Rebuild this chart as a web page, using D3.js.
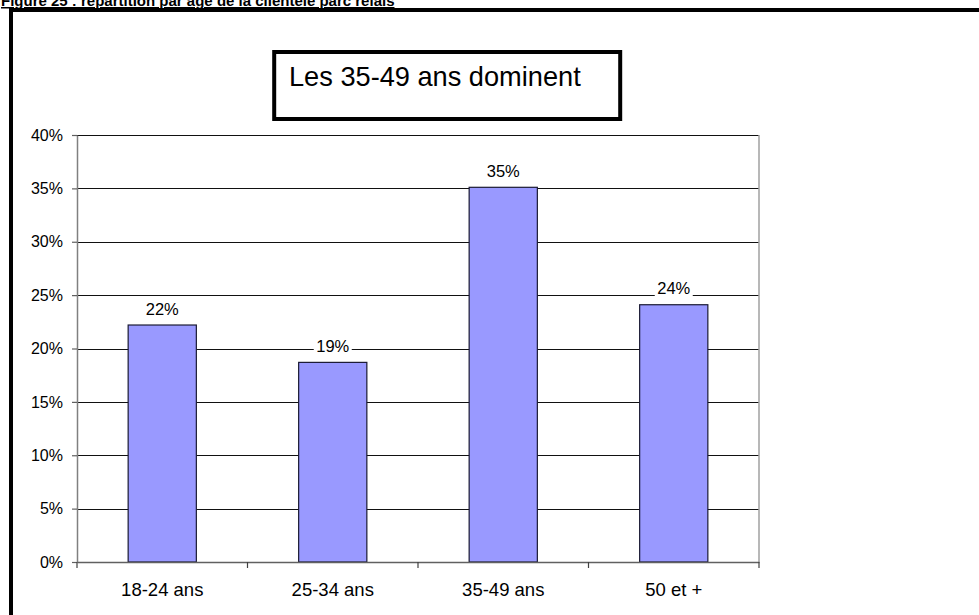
<!DOCTYPE html>
<html>
<head>
<meta charset="utf-8">
<script src="https://cdn.jsdelivr.net/npm/d3@7"></script>
<style>
  html, body { margin: 0; padding: 0; background: #fff; }
  svg { display: block; font-family: Arial, "Liberation Sans", sans-serif; }
</style>
</head>
<body>
<svg id="chart" width="979" height="615"></svg>
<script>
// ---- Data ----
const categories = ["18-24 ans", "25-34 ans", "35-49 ans", "50 et +"];
const values = [0.222, 0.187, 0.351, 0.241];
const yTicks = [0, 0.05, 0.10, 0.15, 0.20, 0.25, 0.30, 0.35, 0.40];
const figureTitle = "Figure 25 : répartition par âge de la clientèle parc relais";
const annotation = "Les 35-49 ans dominent";

// ---- Layout ----
const plot = { left: 77, right: 759, top: 135, bottom: 562 };
const svg = d3.select("#chart");
const FONT = "Arial, 'Liberation Sans', sans-serif";

// outer frame (extends past the right/bottom of the window)
svg.append("rect")
  .attr("x", 11).attr("y", 10)
  .attr("width", 1100).attr("height", 800)
  .attr("fill", "none").attr("stroke", "#000").attr("stroke-width", 4);

// clipped title at top
svg.append("text")
  .attr("x", 1).attr("y", 6)
  .style("font-size", "15px").style("font-weight", "bold")
  .style("font-family", FONT)
  .attr("text-decoration", "underline")
  .attr("fill", "#000")
  .text(figureTitle);

// ---- Scales ----
const x = d3.scaleBand().domain(categories).range([plot.left, plot.right]).padding(0);
const y = d3.scaleLinear().domain([0, 0.4]).range([plot.bottom, plot.top]);
const barW = x.bandwidth() * 0.4;

// gridlines
svg.append("g")
  .attr("transform", `translate(${plot.left},0)`)
  .call(d3.axisLeft(y).tickValues(yTicks.filter(d => d > 0)).tickSize(-(plot.right - plot.left)).tickFormat(""))
  .call(g => g.select(".domain").remove())
  .call(g => g.selectAll(".tick line").attr("stroke", "#111").attr("shape-rendering", "crispEdges"));

// plot area right border
svg.append("line")
  .attr("x1", plot.right).attr("x2", plot.right)
  .attr("y1", plot.top).attr("y2", plot.bottom)
  .attr("stroke", "#a0a0a0").attr("stroke-width", 1.5);

// bars
svg.append("g").selectAll("rect")
  .data(categories.map((c, i) => ({ c, v: values[i] })))
  .join("rect")
  .attr("x", d => x(d.c) + (x.bandwidth() - barW) / 2)
  .attr("y", d => y(d.v))
  .attr("width", barW)
  .attr("height", d => y(0) - y(d.v))
  .attr("fill", "#9999ff")
  .attr("stroke", "#1a1a33")
  .attr("stroke-width", 1.2);

// y axis
const yAxis = svg.append("g")
  .attr("transform", `translate(${plot.left},0)`)
  .call(d3.axisLeft(y).tickValues(yTicks).tickFormat(d3.format(".0%")).tickSize(5).tickPadding(9).tickSizeOuter(0));
yAxis.attr("font-size", null).attr("font-family", null);
yAxis.select(".domain").attr("stroke", "#808080").attr("stroke-width", 1.5);
yAxis.selectAll(".tick line").attr("stroke", "#606060").attr("stroke-width", 1.2);
yAxis.selectAll(".tick text")
  .style("font-size", "16px").style("font-family", FONT).attr("fill", "#000");

// x axis line + boundary ticks
const xAxis = svg.append("g")
  .attr("transform", `translate(0,${plot.bottom})`)
  .call(d3.axisBottom(x).tickSize(0).tickPadding(21).tickSizeOuter(0));
xAxis.attr("font-size", null).attr("font-family", null);
xAxis.select(".domain").attr("stroke", "#606060").attr("stroke-width", 1.5);
xAxis.selectAll(".tick text")
  .style("font-size", "18.5px").style("font-family", FONT).attr("fill", "#000");
const boundaries = categories.map(c => x(c)).concat([plot.right]);
xAxis.selectAll("line.bound")
  .data(boundaries)
  .join("line")
  .attr("class", "bound")
  .attr("x1", d => d).attr("x2", d => d)
  .attr("y1", 0).attr("y2", 6)
  .attr("stroke", "#404040").attr("stroke-width", 1.2);

// data labels with white background
const labels = svg.append("g").selectAll("g")
  .data(categories.map((c, i) => ({ c, v: values[i] })))
  .join("g")
  .attr("transform", d => `translate(${x(d.c) + x.bandwidth() / 2},${y(d.v) - 10.5})`);
labels.append("rect")
  .attr("x", -19).attr("y", -13).attr("width", 38).attr("height", 15)
  .attr("fill", "#fff");
labels.append("text")
  .attr("text-anchor", "middle")
  .style("font-size", "16.5px").style("font-family", FONT)
  .attr("fill", "#000")
  .text(d => d3.format(".0%")(d.v));

// annotation box
svg.append("rect")
  .attr("x", 274.2).attr("y", 52)
  .attr("width", 346).attr("height", 67)
  .attr("fill", "#fff").attr("stroke", "#000").attr("stroke-width", 4);
svg.append("text")
  .attr("x", 289).attr("y", 86)
  .style("font-size", "27.2px").style("font-family", FONT)
  .attr("fill", "#000")
  .text(annotation);
</script>
</body>
</html>
